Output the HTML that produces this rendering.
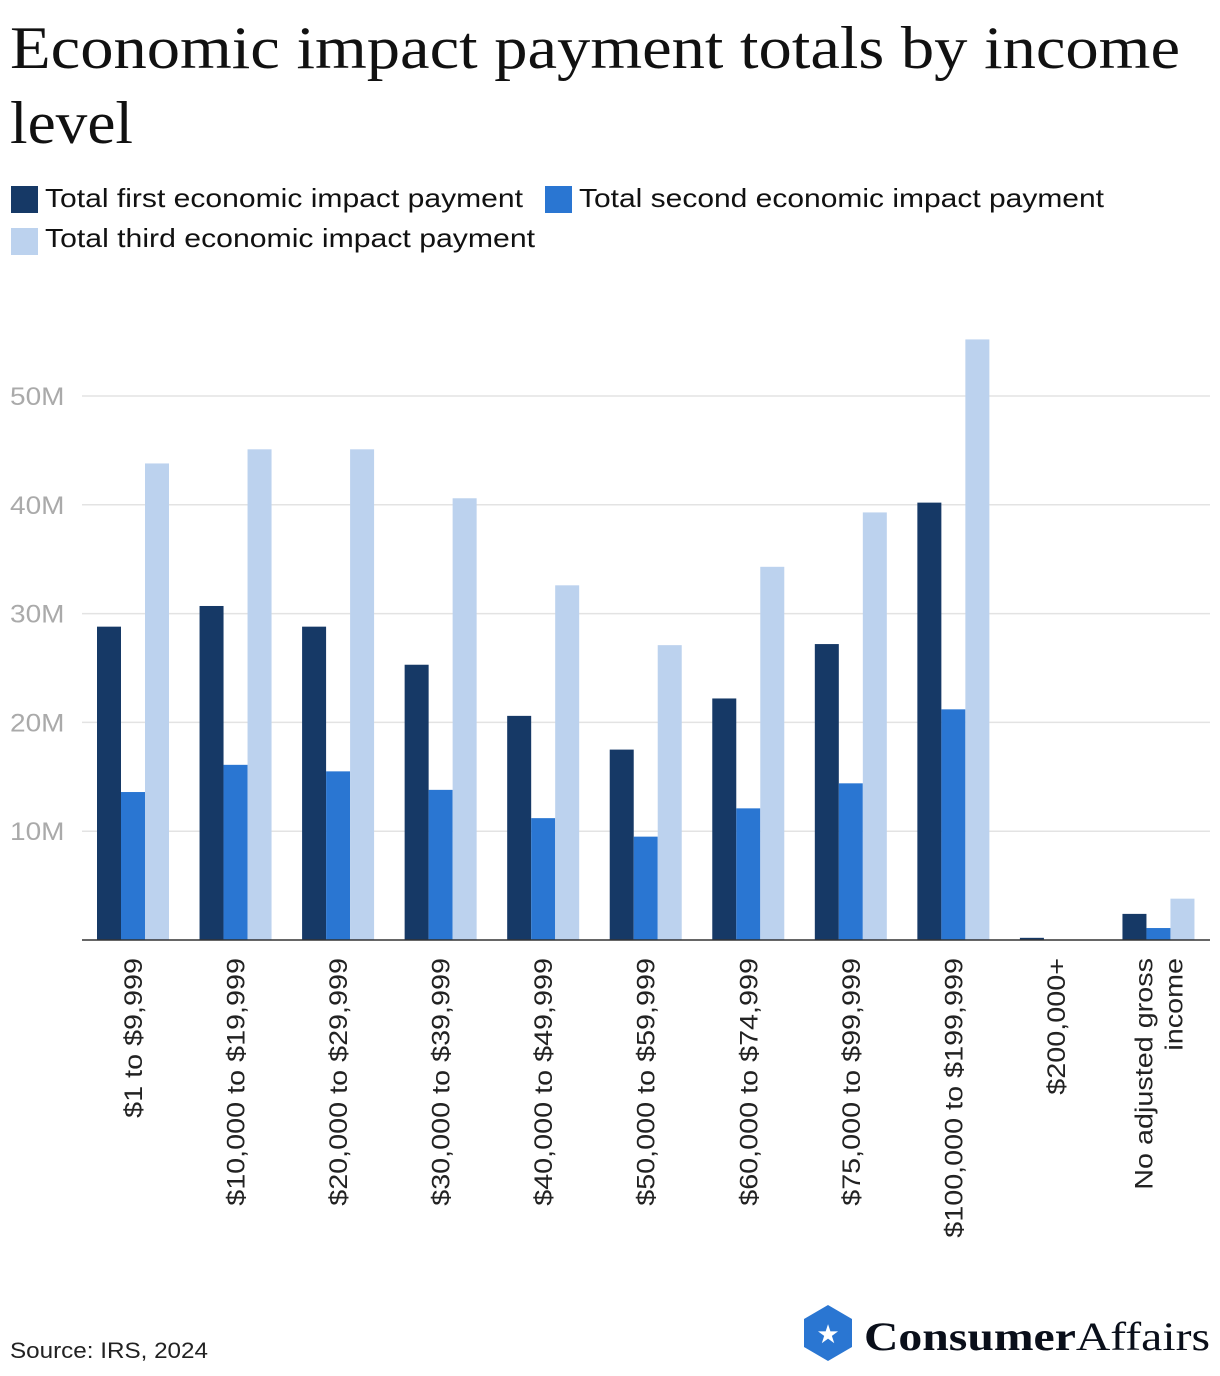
<!DOCTYPE html>
<html><head><meta charset="utf-8"><style>
body{margin:0;background:#fff;width:1220px;height:1376px;overflow:hidden}
svg{display:block}
</style></head><body>
<svg id="c" width="1220" height="1376" xmlns="http://www.w3.org/2000/svg">
<text x="10" y="68" font-family="Liberation Serif, serif" font-size="60" fill="#111" textLength="1170" lengthAdjust="spacingAndGlyphs">Economic impact payment totals by income</text>
<text x="10" y="143" font-family="Liberation Serif, serif" font-size="60" fill="#111" textLength="123" lengthAdjust="spacingAndGlyphs">level</text>
<g font-family="Liberation Sans, sans-serif" font-size="26" fill="#111">
<rect x="11" y="186" width="27" height="27" fill="#163966"/>
<text x="45" y="207" textLength="478" lengthAdjust="spacingAndGlyphs">Total first economic impact payment</text>
<rect x="545" y="186" width="27" height="27" fill="#2a76d2"/>
<text x="579" y="207" textLength="525" lengthAdjust="spacingAndGlyphs">Total second economic impact payment</text>
<rect x="11" y="228" width="27" height="27" fill="#bcd2ee"/>
<text x="45" y="247" textLength="490" lengthAdjust="spacingAndGlyphs">Total third economic impact payment</text>
</g>
<g id="plot"></g>
<text x="10" y="1358" font-family="Liberation Sans, sans-serif" font-size="22" fill="#222" textLength="198" lengthAdjust="spacingAndGlyphs">Source: IRS, 2024</text>
<g>
<polygon points="828,1305 852,1319 852,1347 828,1361 804,1347 804,1319" fill="#2a76d2"/>
<text x="828" y="1343" text-anchor="middle" font-size="26" fill="#fff" font-family="DejaVu Sans, sans-serif">★</text>
<text x="864" y="1350" font-family="Liberation Serif, serif" font-size="40" font-weight="bold" fill="#0a0f1a" textLength="346" lengthAdjust="spacingAndGlyphs">Consumer<tspan font-weight="normal">Affairs</tspan></text>
</g>
</svg>
<script>
const categories=["$1 to $9,999","$10,000 to $19,999","$20,000 to $29,999","$30,000 to $39,999","$40,000 to $49,999","$50,000 to $59,999","$60,000 to $74,999","$75,000 to $99,999","$100,000 to $199,999","$200,000+","No adjusted gross income"];
const firstPayment=[28.8,30.7,28.8,25.3,20.6,17.5,22.2,27.2,40.2,0.2,2.4];
const secondPayment=[13.6,16.1,15.5,13.8,11.2,9.5,12.1,14.4,21.2,0,1.1];
const thirdPayment=[43.8,45.1,45.1,40.6,32.6,27.1,34.3,39.3,55.2,0,3.8];
const yTicks=[10,20,30,40,50];
const yTickLabels=["10M","20M","30M","40M","50M"];
const NS="http://www.w3.org/2000/svg";
const g=document.getElementById('plot');
const x0=82,x1=1210,yBase=940,pxPer=10.88;
const step=(x1-x0)/categories.length;
const bw=24;
const yS=v=>yBase-v*pxPer;
function mk(t,a){const e=document.createElementNS(NS,t);for(const k in a)e.setAttribute(k,a[k]);g.appendChild(e);return e;}
yTicks.forEach((t,i)=>{
 const l=mk('line',{x1:x0,x2:x1,y1:yS(t),y2:yS(t),stroke:'#e3e3e3','stroke-width':1.5});
 
 
 const tx=mk('text',{x:10,y:yS(t)+9,'font-family':'Liberation Sans, sans-serif','font-size':25,fill:'#aaa'});
 tx.textContent=yTickLabels[i];
 
 
 const w=tx.getComputedTextLength();
 tx.setAttribute('textLength',w*1.12);
 tx.setAttribute('lengthAdjust','spacingAndGlyphs');
});
const series=[[firstPayment,'#163966','first'],[secondPayment,'#2a76d2','second'],[thirdPayment,'#bcd2ee','third']];
categories.forEach((c,i)=>{
 const gx=x0+i*step+15;
 series.forEach((s,j)=>{
  const v=s[0][i];
  const r=mk('rect',{x:gx+j*bw,y:yS(v),width:bw,height:v*pxPer,fill:s[1]});
  
  
 });
 const cx=gx+1.5*bw;
 const lines=c==="No adjusted gross income"?["No adjusted gross","income"]:[c];
 lines.forEach((ln,k)=>{
  const off=(k-(lines.length-1)/2)*30;
  const tx=mk('text',{x:0,y:0,'font-family':'Liberation Sans, sans-serif','font-size':25,fill:'#222','text-anchor':'end',transform:`translate(${cx+9+off},958) rotate(-90)`});
  tx.textContent=ln;
  
  
  const w=tx.getComputedTextLength();
  tx.setAttribute('textLength',w*1.15);
  tx.setAttribute('lengthAdjust','spacingAndGlyphs');
 });
});
const ax=mk('line',{x1:x0,x2:x1,y1:yBase,y2:yBase,stroke:'#333','stroke-width':1.5});


</script>
</body></html>
